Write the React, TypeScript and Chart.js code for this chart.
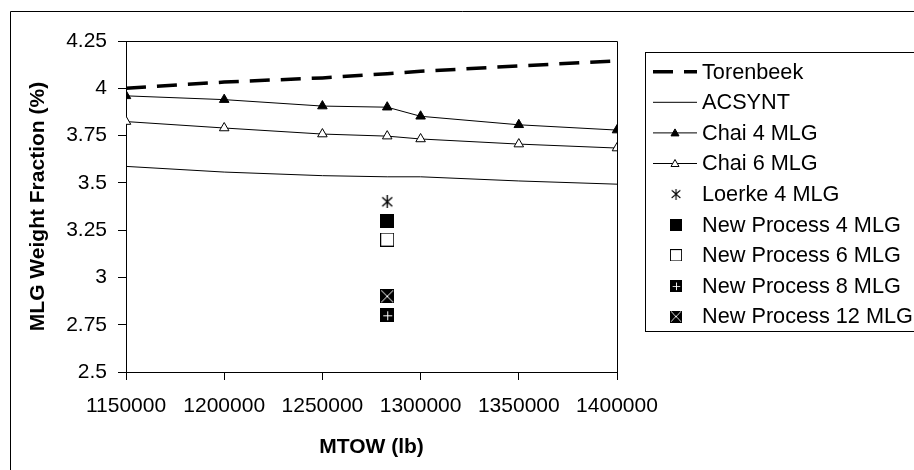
import React, { useEffect, useRef } from 'react';
import { Chart, registerables } from 'chart.js';

Chart.register(...registerables);

// MTOW (lb) values where the curves were evaluated
const mtow = [1150000, 1200000, 1250000, 1283000, 1300000, 1350000, 1400000];
const torenbeek = [4.0, 4.033, 4.055, 4.077, 4.09, 4.118, 4.145];
const acsynt = [3.587, 3.557, 3.538, 3.532, 3.532, 3.51, 3.493];
const chai4 = [3.96, 3.94, 3.906, 3.9, 3.852, 3.807, 3.779];
const chai6 = [3.824, 3.79, 3.758, 3.747, 3.732, 3.705, 3.684];

// single-aircraft results
const newProcessMtow = 1283000;
const loerke4 = 3.4;
const newProcess4 = 3.3;
const newProcess6 = 3.2;
const newProcess8 = 2.8;
const newProcess12 = 2.9;

const FONT = "'Liberation Sans', Arial, sans-serif";

const makeMarker = (size: number, draw: (c: CanvasRenderingContext2D, s: number) => void) => {
  const cv = document.createElement('canvas');
  cv.width = size;
  cv.height = size;
  const c = cv.getContext('2d')!;
  draw(c, size);
  return cv;
};

const App: React.FC = () => {
  const canvasRef = useRef<HTMLCanvasElement>(null);

  useEffect(() => {
    document.body.style.margin = '0';
    if (!canvasRef.current) return;

    const star = makeMarker(13, (c, s) => {
      c.strokeStyle = '#000';
      c.lineWidth = 1.4;
      c.beginPath();
      c.moveTo(1.5, 2); c.lineTo(s - 1.5, s - 2);
      c.moveTo(s - 1.5, 2); c.lineTo(1.5, s - 2);
      c.moveTo(s / 2, 0); c.lineTo(s / 2, s);
      c.stroke();
    });
    const filledSq = makeMarker(14, (c, s) => {
      c.fillStyle = '#000';
      c.fillRect(0, 0, s, s);
    });
    const openSq = makeMarker(14, (c, s) => {
      c.fillStyle = '#fff';
      c.fillRect(0, 0, s, s);
      c.strokeStyle = '#000';
      c.lineWidth = 1;
      c.strokeRect(0.5, 0.5, s - 1, s - 1);
    });
    const plusSq = makeMarker(14, (c, s) => {
      c.fillStyle = '#000';
      c.fillRect(0, 0, s, s);
      c.strokeStyle = '#fff';
      c.lineWidth = 1;
      c.beginPath();
      c.moveTo(7.5, 3); c.lineTo(7.5, 12);
      c.moveTo(3, 7.5); c.lineTo(12, 7.5);
      c.stroke();
    });
    const crossSq = makeMarker(14, (c, s) => {
      c.fillStyle = '#000';
      c.fillRect(0, 0, s, s);
      c.strokeStyle = '#fff';
      c.lineWidth = 1;
      c.beginPath();
      c.moveTo(1, 1); c.lineTo(s - 1, s - 1);
      c.moveTo(s - 1, 1); c.lineTo(1, s - 1);
      c.stroke();
    });

    const pts = (ys: number[]) => ys.map((y, i) => ({ x: mtow[i], y }));
    const single = (y: number) => [{ x: newProcessMtow, y }];

    const framePlugin = {
      id: 'frame',
      beforeDraw(chart: Chart) {
        const ctx = chart.ctx;
        ctx.save();
        ctx.fillStyle = '#fff';
        ctx.fillRect(0, 0, chart.width, chart.height);
        ctx.strokeStyle = '#000';
        ctx.lineWidth = 1;
        ctx.beginPath();
        ctx.moveTo(10.5, chart.height);
        ctx.lineTo(10.5, 11.5);
        ctx.lineTo(chart.width, 11.5);
        ctx.stroke();
        ctx.restore();
      },
      afterDraw(chart: Chart) {
        const ctx = chart.ctx;
        const a = chart.chartArea;
        ctx.save();
        ctx.strokeStyle = '#000';
        ctx.lineWidth = 1;
        ctx.beginPath();
        ctx.moveTo(Math.round(a.left) + 0.5, Math.round(a.top) + 0.5);
        ctx.lineTo(Math.round(a.right) + 0.5, Math.round(a.top) + 0.5);
        ctx.lineTo(Math.round(a.right) + 0.5, Math.round(a.bottom) + 0.5);
        ctx.stroke();

        // legend
        ctx.fillStyle = '#fff';
        ctx.fillRect(645, 52, 290, 280);
        ctx.strokeRect(645.5, 52.5, 290, 279);
        ctx.font = `21.7px ${FONT}`;
        ctx.textBaseline = 'middle';
        ctx.textAlign = 'left';
        chart.data.datasets.forEach((ds: any, i: number) => {
          const y = 71.7 + i * 30.6;
          if (ds.showLine) {
            ctx.save();
            ctx.strokeStyle = '#000';
            ctx.lineWidth = ds.borderWidth;
            ctx.setLineDash(ds.borderDash || []);
            ctx.beginPath();
            ctx.moveTo(653, y);
            ctx.lineTo(697, y);
            ctx.stroke();
            ctx.restore();
          }
          if (ds.pointStyle === 'triangle') {
            ctx.save();
            ctx.fillStyle = ds.pointBackgroundColor;
            ctx.strokeStyle = '#000';
            ctx.beginPath();
            ctx.moveTo(675, y - 4);
            ctx.lineTo(679, y + 3);
            ctx.lineTo(671, y + 3);
            ctx.closePath();
            ctx.fill();
            ctx.stroke();
            ctx.restore();
          } else if (ds.pointStyle && typeof ds.pointStyle === 'object') {
            const img = ds.pointStyle as HTMLCanvasElement;
            const s = img.width - 2;
            ctx.drawImage(img, 676 - s / 2, y - s / 2, s, s);
          }
          ctx.fillStyle = '#000';
          ctx.fillText(ds.label, 702, y + 1);
        });
        ctx.restore();
      },
    };

    const chart = new Chart(canvasRef.current, {
      type: 'scatter',
      data: {
        datasets: [
          {
            label: 'Torenbeek',
            data: pts(torenbeek),
            showLine: true,
            borderColor: '#000',
            borderWidth: 3.5,
            borderDash: [20, 11],
            pointRadius: 0,
          },
          {
            label: 'ACSYNT',
            data: pts(acsynt),
            showLine: true,
            borderColor: '#000',
            borderWidth: 1,
            pointRadius: 0,
          },
          {
            label: 'Chai 4 MLG',
            data: pts(chai4),
            showLine: true,
            borderColor: '#000',
            borderWidth: 1,
            pointStyle: 'triangle',
            pointRadius: 5.5,
            pointBackgroundColor: '#000',
            pointBorderColor: '#000',
            pointBorderWidth: 1,
          },
          {
            label: 'Chai 6 MLG',
            data: pts(chai6),
            showLine: true,
            borderColor: '#000',
            borderWidth: 1,
            pointStyle: 'triangle',
            pointRadius: 5.5,
            pointBackgroundColor: '#fff',
            pointBorderColor: '#000',
            pointBorderWidth: 1,
          },
          { label: 'Loerke 4 MLG', data: single(loerke4), pointStyle: star, pointRadius: 6 },
          { label: 'New Process 4 MLG', data: single(newProcess4), pointStyle: filledSq, pointRadius: 7 },
          { label: 'New Process 6 MLG', data: single(newProcess6), pointStyle: openSq, pointRadius: 7 },
          { label: 'New Process 8 MLG', data: single(newProcess8), pointStyle: plusSq, pointRadius: 7 },
          { label: 'New Process 12 MLG', data: single(newProcess12), pointStyle: crossSq, pointRadius: 7 },
        ] as any,
      },
      options: {
        responsive: false,
        animation: false,
        devicePixelRatio: 1,
        layout: { padding: { left: 0, top: 41, right: 297, bottom: 0 } },
        elements: { line: { tension: 0 } },
        plugins: {
          legend: { display: false },
          tooltip: { enabled: false },
        },
        scales: {
          x: {
            type: 'linear',
            min: 1150000,
            max: 1400000,
            afterFit: (s: any) => { s.height = 98; },
            border: { display: true, color: '#000', width: 1 },
            grid: { drawOnChartArea: false, drawTicks: true, tickLength: 8, color: '#000', tickColor: '#000' },
            ticks: {
              stepSize: 50000,
              autoSkip: false,
              maxRotation: 0,
              padding: 14,
              color: '#000',
              font: { family: FONT, size: 21 },
              callback: (v: any) => String(v),
            },
            title: {
              display: true,
              text: 'MTOW (lb)',
              color: '#000',
              font: { family: FONT, size: 21, weight: 'bold' },
              padding: { top: 0, bottom: 10 },
            },
          },
          y: {
            type: 'linear',
            min: 2.5,
            max: 4.25,
            afterFit: (s: any) => { s.width = 126; },
            border: { display: true, color: '#000', width: 1 },
            grid: { drawOnChartArea: false, drawTicks: true, tickLength: 8, color: '#000', tickColor: '#000' },
            ticks: {
              stepSize: 0.25,
              padding: 11,
              color: '#000',
              font: { family: FONT, size: 21 },
              callback: (v: any) => String(Math.round(Number(v) * 100) / 100),
            },
            title: {
              display: true,
              text: 'MLG Weight Fraction (%)',
              color: '#000',
              font: { family: FONT, size: 21, weight: 'bold' },
              padding: { top: 26, bottom: 0 },
            },
          },
        },
      },
      plugins: [framePlugin],
    });

    return () => chart.destroy();
  }, []);

  return (
    <div style={{ width: 914, height: 470 }}>
      <canvas ref={canvasRef} width={914} height={470} style={{ display: 'block' }} />
    </div>
  );
};

export default App;
